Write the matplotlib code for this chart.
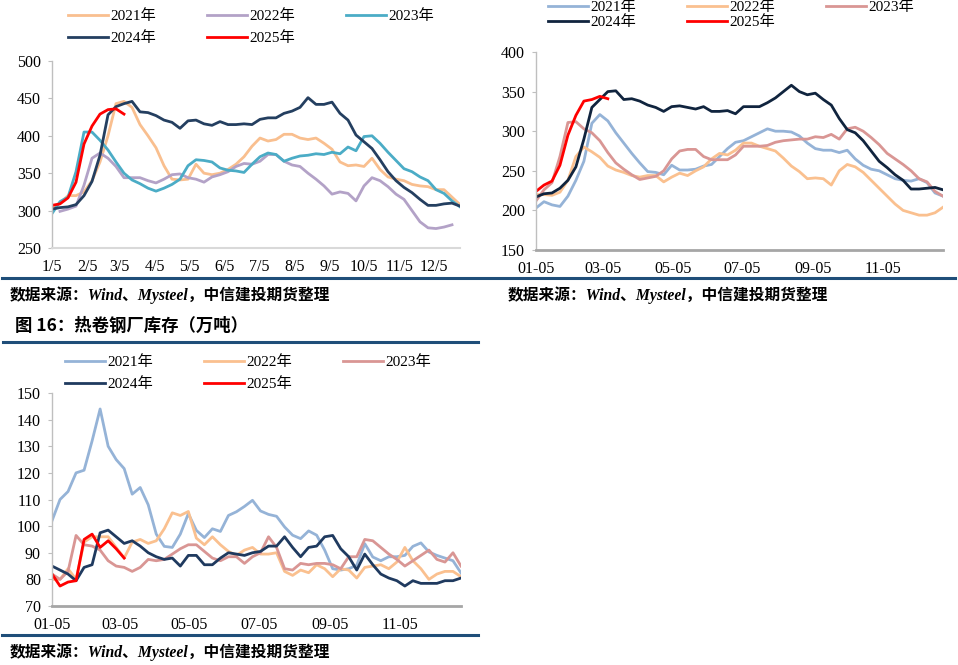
import numpy as np
import matplotlib
matplotlib.use("Agg")
import matplotlib.pyplot as plt
from matplotlib.lines import Line2D
from matplotlib.font_manager import FontProperties

W, H = 958, 665
nan = np.nan

# ---------------- data ----------------
years = ["2021年", "2022年", "2023年", "2024年", "2025年"]

# Panel 1 (top-left)
p1_2021 = [302,310,320,320,325,340,365,400,443,446,438,415,400,384,360,342,341,342,362,350,
           348,350,355,362,372,386,397,393,395,402,402,397,395,397,390,382,365,360,361,359,
           370,355,345,342,340,335,333,332,328,328,318,308]
p1_2022 = [nan,299,302,306,334,370,377,370,359,344,344,344,340,337,342,348,349,344,342,338,
           345,348,352,359,363,362,366,375,375,366,361,359,350,342,333,322,325,323,313,333,
           344,340,332,322,315,300,285,277,276,278,281,nan]
p1_2023 = [296,312,318,352,405,405,394,381,365,350,341,336,330,326,330,335,342,360,368,367,
           365,357,354,353,351,362,372,377,375,366,370,373,374,376,375,378,376,385,380,399,
           400,390,378,367,356,352,345,340,328,323,313,305]
p1_2024 = [302,304,305,308,320,339,374,428,439,443,446,432,431,427,421,418,410,420,421,416,
           414,419,415,415,416,415,422,424,424,430,433,438,451,442,442,445,430,421,401,392,
           383,368,352,340,331,324,315,307,307,309,310,306]
p1_2025 = [307,309,317,338,389,413,429,435,436,429]

# Panel 2 (top-right)
p2_2021 = [203,211,207,205,218,238,262,310,321,313,298,285,272,260,249,248,245,257,251,251,
           252,256,258,268,278,286,288,293,298,303,300,300,299,294,285,278,276,276,273,276,
           265,257,252,250,245,240,238,237,240,235,222,218]
p2_2022 = [220,220,219,223,238,268,280,274,267,256,251,248,244,242,244,244,236,242,247,244,
           250,255,265,272,270,276,285,285,281,278,275,266,256,249,240,241,240,232,250,258,
           255,248,238,228,218,208,200,197,194,194,197,204]
p2_2023 = [212,226,235,268,311,312,303,298,288,273,260,252,245,239,241,243,250,265,275,277,
           277,268,264,264,264,270,281,281,281,282,286,288,289,290,290,293,292,296,290,303,
           305,300,292,283,272,265,258,250,240,236,224,218]
p2_2024 = [217,221,222,228,238,255,290,330,340,350,351,340,341,338,333,330,325,331,332,330,
           328,331,325,325,326,322,331,331,331,336,342,350,358,350,346,348,340,333,316,302,
           298,288,275,262,254,245,238,227,227,228,229,226]
p2_2025 = [224,232,237,257,295,320,338,340,344,341]

# Panel 3 (bottom-left): 热卷钢厂库存
p3_2021 = [102,110,113,120,121,132,144,130,125,121.6,112,114.5,108,97,92.4,92,97,104.7,98.4,95.7,
           99,98,104,105.4,107.4,109.7,105.7,104.4,103.7,99.7,96.6,95.3,98.2,96.6,91,84,
           83.5,84,85.3,93.4,88.4,87,88.5,88.5,89,92.4,93.7,90.3,89,88,87,82.4]
p3_2022 = [80,80,84,80,94,96,96,96,92,88,94,95,93.5,94.5,99,105,104,105.5,95.5,93,
           96,93,90.5,89,91,92,89.5,89.5,90,83,81.5,83.5,82.5,85.5,84,81,84,83.5,80.5,84.5,
           85,85.5,84,86.5,92,87,84,80,82,83,83,81]
p3_2023 = [82,80,83,96.5,93,92.5,91,87,85,84.5,83,84.5,87.5,87,87.5,89.5,91.5,93,93,90.5,
           88,87,88.5,88.5,86,88.5,90,96,92,84,83.5,86,85.5,86,86,85.5,84,88.5,88.5,95,
           94.5,92,89.5,87.5,85,87,89,91,87.5,86.5,90,85]
p3_2024 = [85,83.5,82,79.5,84.5,85.5,97.5,98.5,96,93.5,94.5,92.5,90,88.5,87.5,88,85,89,89,85.5,
           85.5,88,90,89.5,89,90,90.5,92.5,92.5,96,92,88.5,92,92.5,96,96.5,91.5,88.5,83.5,89.5,
           85.5,82,80.5,79.5,77.5,79.5,78.5,78.5,78.5,79.5,79.5,80.5]
p3_2025 = [82,77.5,79,79.5,95,97,92,94.5,91.5,88]

# ticks (days since Jan 5)
p1_ticks = [0,31,59,90,120,151,181,212,243,273,304,334]
p1_ticklabels = ["1/5","2/5","3/5","4/5","5/5","6/5","7/5","8/5","9/5","10/5","11/5","12/5"]
p23_ticks = [0,59,120,181,243,304]
p23_ticklabels = ["01-05","03-05","05-05","07-05","09-05","11-05"]

title3 = "图 16：热卷钢厂库存（万吨）"
source = "数据来源：Wind、Mysteel，中信建投期货整理"

# ---------------- styling ----------------
plt.rcParams['font.family'] = ['Liberation Serif', 'Noto Sans CJK SC', 'DejaVu Sans']
fig = plt.figure(figsize=(W/100, H/100), dpi=100)
fp = FontProperties(family=['Liberation Serif', 'Noto Sans CJK SC'], size=11)

def ax_px(l, r, t, b):
    return fig.add_axes([l/W, 1-b/H, (r-l)/W, (b-t)/H])

def weeks(vals):
    return np.arange(len(vals)) * 7

def setup(ax, ylim, yticks, xt, xtl, bottom_color, bottom_lw):
    ax.set_xlim(0, 357)
    ax.set_ylim(*ylim)
    ax.set_yticks(yticks)
    ax.set_xticks(xt)
    ax.set_xticklabels(xtl)
    for s in ['top', 'right']:
        ax.spines[s].set_visible(False)
    ax.spines['left'].set_color('#BFBFBF')
    ax.spines['left'].set_linewidth(1.0)
    ax.spines['bottom'].set_color(bottom_color)
    ax.spines['bottom'].set_linewidth(bottom_lw)
    ax.tick_params(axis='y', length=3, width=0.8, color='#BFBFBF', pad=5, labelsize=11.5)
    ax.tick_params(axis='x', length=0, pad=8, labelsize=11.5)
    ax.patch.set_alpha(0)

def legend_rows(handles, x_px, y1, y2):
    for hs, yy in ((handles[:3], y1), (handles[3:], y2)):
        fig.legend(hs, [h.get_label() for h in hs], loc='center left',
                   bbox_to_anchor=(x_px/W, 1-yy/H), bbox_transform=fig.transFigure,
                   ncol=len(hs), frameon=False, borderpad=0, borderaxespad=0,
                   handlelength=2.6, handletextpad=0.15, columnspacing=3.35, prop=fp)

def hline(x0, x1, y, color='#1F4E79', lw=2.2):
    fig.add_artist(Line2D([x0/W, x1/W], [1-y/H, 1-y/H], transform=fig.transFigure,
                          color=color, lw=lw))

LW = 2.0
# ---- Panel 1 ----
ax1 = ax_px(52, 460, 61, 248)
cols1 = ['#F9BF8F', '#B3A2C7', '#4BACC6', '#243F60', '#FF0000']
hs = []
for data, c, lab in zip([p1_2021, p1_2022, p1_2023, p1_2024, p1_2025], cols1, years):
    l, = ax1.plot(weeks(data), data, color=c, lw=LW, label=lab, solid_joinstyle='round')
    hs.append(l)
setup(ax1, (250, 500), np.arange(250, 501, 50), p1_ticks, p1_ticklabels, '#D9D9D9', 1.5)
legend_rows(hs, 68, 16, 38)

# ---- Panel 2 ----
ax2 = ax_px(536, 943, 52, 250)
cols2 = ['#95B3D7', '#FAC08F', '#D99694', '#10243E', '#FF0000']
hs = []
for data, c, lab in zip([p2_2021, p2_2022, p2_2023, p2_2024, p2_2025], cols2, years):
    l, = ax2.plot(weeks(data), data, color=c, lw=LW, label=lab, solid_joinstyle='round')
    hs.append(l)
setup(ax2, (150, 400), np.arange(150, 401, 50), p23_ticks, p23_ticklabels, '#A6A6A6', 2.0)
legend_rows(hs, 548, 7, 22)

# ---- Panel 3 ----
ax3 = ax_px(52, 461, 393, 606)
cols3 = ['#95B3D7', '#FAC08F', '#D99694', '#1F3A5F', '#FF0000']
hs = []
for data, c, lab in zip([p3_2021, p3_2022, p3_2023, p3_2024, p3_2025], cols3, years):
    l, = ax3.plot(weeks(data), data, color=c, lw=LW, label=lab, solid_joinstyle='round')
    hs.append(l)
setup(ax3, (70, 150), np.arange(70, 151, 10), p23_ticks, p23_ticklabels, '#A6A6A6', 2.0)
legend_rows(hs, 65, 362, 384)

# ---- rules, titles, sources ----
hline(2, 955, 278)
hline(3, 478, 342)
hline(2, 478, 635)

fig.text(15/W, 1-326/H, title3, fontsize=12.5, fontweight='bold', va='center', ha='left',
         family=['Noto Sans CJK SC', 'DejaVu Sans'])
for (x, y) in [(10, 295), (508, 295), (10, 652)]:
    fig.text(x/W, 1-y/H, source, fontsize=11.3, fontweight='bold', fontstyle='italic',
             va='center', ha='left', family=['Liberation Serif', 'Noto Sans CJK SC'])

fig.savefig("out.png", dpi=100)
